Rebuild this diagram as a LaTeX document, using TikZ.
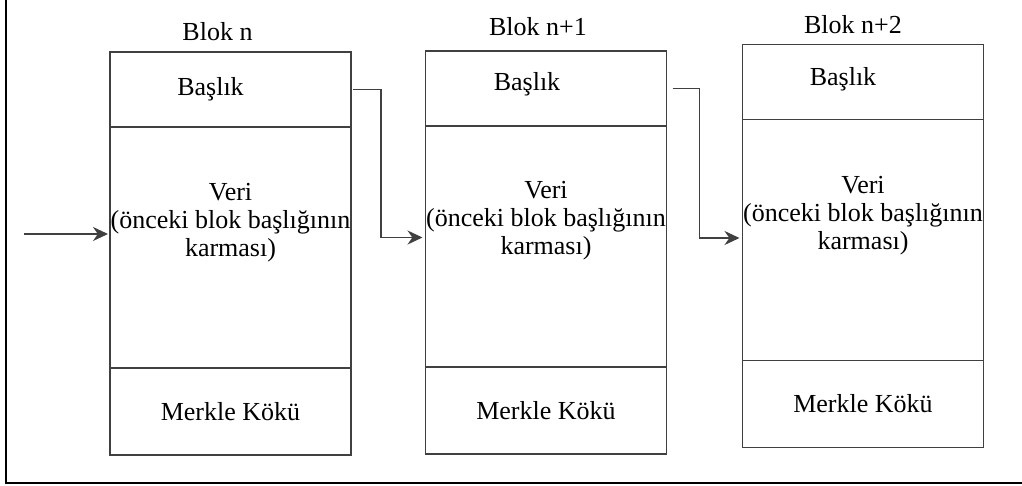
\documentclass[tikz,border=0pt]{standalone}
\usepackage{fontspec}
\setmainfont{Liberation Serif}
\usetikzlibrary{positioning,arrows.meta}

\begin{document}
\begin{tikzpicture}
[
    x = 1pt, y = -1pt,
    part/.style = {draw = black!75, line width = 1.7pt, minimum width = 241pt,
                   inner sep = 0pt, outer sep = 0pt},
    hdr/.style = {part, minimum height = 75pt},
    body/.style = {part, minimum height = 241pt},
    root/.style = {part, minimum height = 87pt, font = \fontsize{26}{28}\selectfont},
    txt/.style = {font = \fontsize{26}{28}\selectfont, align = center, inner sep = 0pt},
    link/.style = {draw = black!75, line width = 1.7pt, -{Stealth[length = 15pt, width = 14pt]}}
]
\useasboundingbox (0,0) rectangle (1022,486);
\draw[line width = 2.4pt] (6,0) |- (1022,483);

% blok n
\node[hdr] (h1) at (230.5,89.5) {};
\node[body, below = 0pt of h1] (d1) {};
\node[root, below = 0pt of d1] (r1) {Merkle Kökü};
\node[txt, above = 11pt of h1, xshift = -13pt] (t1) {Blok n};
\node[txt] (b1) at ([xshift = -20pt]h1.center) {Başlık};
\node[txt] (v1) at ([yshift = 25pt]d1.center) {Veri\\(önceki blok başlığının\\karması)};

% blok n+1
\node[hdr] (h2) at (546,88.5) {};
\node[body, below = 0pt of h2] (d2) {};
\node[root, below = 0pt of d2] (r2) {Merkle Kökü};
\node[txt, above = 15pt of h2, xshift = -8pt] (t2) {Blok n+1};
\node[txt] (b2) at ([xshift = -19pt, yshift = 4pt]h2.center) {Başlık};
\node[txt] (v2) at ([yshift = 26pt]d2.center) {Veri\\(önceki blok başlığının\\karması)};

% blok n+2
\node[hdr] (h3) at (863,82) {};
\node[body, below = 0pt of h3] (d3) {};
\node[root, below = 0pt of d3] (r3) {Merkle Kökü};
\node[txt, above = 11pt of h3, xshift = -10pt] (t3) {Blok n+2};
\node[txt] (b3) at ([xshift = -20pt, yshift = 3pt]h3.center) {Başlık};
\node[txt] (v3) at ([yshift = 24pt]d3.center) {Veri\\(önceki blok başlığının\\karması)};

% baglantilar
\coordinate (in) at (24,234);
\draw[link] (in) -- ([xshift = -2pt]in -| d1.west);
\draw[link] ([xshift = 2pt]h1.east) -- ++(28,0) |- ([xshift = -3pt, yshift = 9pt]d2.west);
\draw[link] ([xshift = 6pt]h2.east) -- ++(27,0) |- ([xshift = -3pt, yshift = 2pt]d3.west);
\end{tikzpicture}
\end{document}
